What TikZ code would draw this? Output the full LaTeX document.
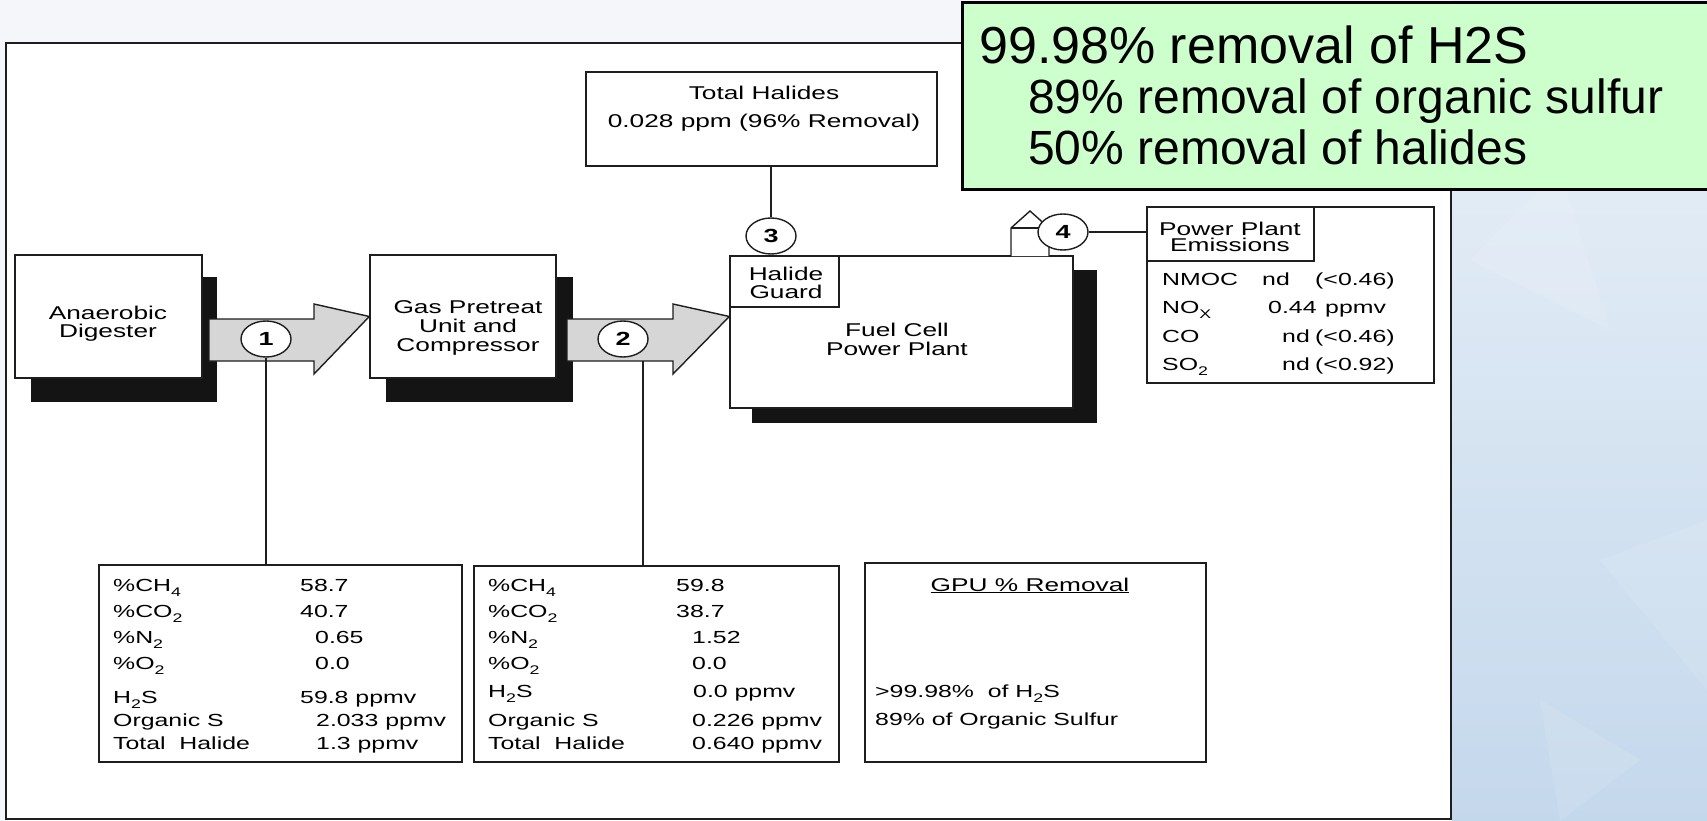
\documentclass[tikz,border=0pt]{standalone}
\usepackage{fontspec}
\usetikzlibrary{shapes.geometric}
\newfontfamily\scan[FakeStretch=1.42]{Liberation Sans}
\newfontfamily\slide{Liberation Sans}
\newcommand\dsub[1]{\raisebox{-0.3em}{\fontsize{12.5}{12.5}\selectfont #1}}
\definecolor{ink}{HTML}{1E1E1E}
\definecolor{shadowc}{HTML}{141414}
\definecolor{arrowgray}{HTML}{D6D6D6}
\definecolor{gbox}{HTML}{CCFFCC}
\definecolor{topbg}{HTML}{F4F6F9}
\definecolor{bluetop}{HTML}{EAF1F8}
\definecolor{bluebot}{HTML}{C4D8EC}
\begin{document}
\begin{tikzpicture}[x=1pt,y=-1pt,
  bx/.style={draw=ink, line width=1.4pt, fill=white, inner sep=0pt},
  shad/.style={fill=shadowc},
  ln/.style={draw=ink, line width=1.4pt},
  flow/.style={draw=ink, line width=1.4pt, fill=arrowgray, line join=miter},
  num/.style={ellipse, draw=ink, line width=1.4pt, fill=white, minimum width=50pt, minimum height=36pt, inner sep=0pt, font=\scan\bfseries\fontsize{19}{19}\selectfont},
  tt/.style={inner sep=0pt, anchor=base west, font=\scan\fontsize{17.5}{18}\selectfont},
  lb/.style={inner sep=0pt, anchor=base, font=\scan\fontsize{18.5}{19}\selectfont},
  gt/.style={inner sep=0pt, anchor=base west, font=\slide\fontsize{48}{48}\selectfont},
]
\useasboundingbox (0,0) rectangle (1707,821);
% background
\fill[topbg] (0,0) rectangle (1707,821);
\shade[top color=bluetop, bottom color=bluebot] (1452,0) rectangle (1707,821);
\fill[white,opacity=0.12] (1470,260) -- (1560,170) -- (1610,330) -- cycle;
\fill[white,opacity=0.10] (1600,560) -- (1707,520) -- (1707,690) -- cycle;
\fill[white,opacity=0.10] (1540,700) -- (1640,760) -- (1560,821) -- cycle;
\fill[white] (6,43) rectangle (1451,821);
\draw[draw=ink, line width=2pt] (6,43) rectangle (1451,819);

% shadows
\fill[shad] (31,277) rectangle (217,402);
\fill[shad] (386,277) rectangle (573,402);
\fill[shad] (752,270) rectangle (1097,423);

% process boxes
\node[bx, minimum width=187pt, minimum height=123pt] (dig) at (108.5,316.5) {};
\node[bx, minimum width=186pt, minimum height=123pt] (gpu) at (463,316.5) {};
\node[bx, minimum width=343pt, minimum height=152pt] (fc) at (901.5,332) {};
\node[bx, minimum width=109pt, minimum height=51pt] (hg) at (784.5,281.5) {};

\node[lb] (digA) at (108,319) {Anaerobic};
\node[lb] (digB) at (108,337) {Digester};
\node[lb] (gpuA) at (468,313) {Gas Pretreat};
\node[lb] (gpuB) at (468,332) {Unit and};
\node[lb] (gpuC) at (468,351) {Compressor};
\node[lb] (hgA) at (786,280) {Halide};
\node[lb] (hgB) at (786,298) {Guard};
\node[lb] (fcA) at (897,336) {Fuel Cell};
\node[lb] (fcB) at (897,355) {Power Plant};

% flow arrows
\draw[flow] (209,319) -- (314,319) -- (314,304) -- (dig.east -| gpu.west) -- (314,374) -- (314,361) -- (209,361) -- cycle;
\draw[flow] (567,319) -- (673,319) -- (673,304) -- (gpu.east -| fc.west) -- (673,374) -- (673,361) -- (567,361) -- cycle;
\coordinate (a2b) at (643,361);

% chimney
\draw[ln, fill=white, line join=miter] (1011,256) -- (1011,228) -- (1030,211) -- (1049,228) -- (1049,256);
\draw[ln] (1011,228) -- (1049,228);

% stream circles
\node[num] (c1) at (266,339) {1};
\node[num] (c2) at (623,339) {2};
\node[num] (c3) at (771,236) {3};
\node[num] (c4) at (1063,232) {4};

% total halides
\node[bx, minimum width=351pt, minimum height=94pt] (th) at (761.5,119) {};
\node[lb] (thA) at (764,100) {Total Halides};
\node[lb] (thB) at (764,128) {0.028 ppm (96\% Removal)};

% emissions
\node[bx, minimum width=287pt, minimum height=176pt] (em) at (1290.5,295) {};
\node[bx, minimum width=167pt, minimum height=54pt] (emt) at (1230.5,234) {};
\node[lb, font=\scan\fontsize{18.5}{16}\selectfont] (emtA) at (1230,235) {Power Plant};
\node[lb, font=\scan\fontsize{18.5}{16}\selectfont] (emtB) at (1230,251) {Emissions};
\foreach \yy/\la/\vxa/\va/\vxb/\vb [count=\i] in {285/NMOC/1262/nd/1315/{(<0.46)}, 313/{NO\dsub{X}}/1268/{0.44}/1325/ppmv, 342/CO/1282/nd/1315/{(<0.46)}, 370/{SO\dsub{2}}/1282/nd/1315/{(<0.92)}}{
  \node[tt] (emL\i) at (1162,\yy) {\la};
  \node[tt] (emV\i) at (\vxa,\yy) {\va};
  \node[tt] (emW\i) at (\vxb,\yy) {\vb};
}

% gas analysis tables
\node[bx, minimum width=363pt, minimum height=197pt] (t1) at (280.5,663.5) {};
\node[bx, minimum width=365pt, minimum height=196pt] (t2) at (656.5,664) {};
\foreach \yy/\la/\va/\vx [count=\i] in {591/{\%CH\dsub{4}}/{58.7}/300, 617/{\%CO\dsub{2}}/{40.7}/300, 643/{\%N\dsub{2}}/{0.65}/315, 669/{\%O\dsub{2}}/{0.0}/315, 703/{H\dsub{2}S}/{59.8 ppmv}/300, 726/{Organic S}/{2.033 ppmv}/316, 749/{Total\ \ Halide}/{1.3 ppmv}/316}{
  \node[tt] (tAl\i) at (113,\yy) {\la};
  \node[tt] (tAv\i) at (\vx,\yy) {\va};
}
\foreach \yy/\la/\va/\vx [count=\i] in {591/{\%CH\dsub{4}}/{59.8}/676, 617/{\%CO\dsub{2}}/{38.7}/676, 643/{\%N\dsub{2}}/{1.52}/692, 669/{\%O\dsub{2}}/{0.0}/692, 697/{H\dsub{2}S}/{0.0 ppmv}/693, 726/{Organic S}/{0.226 ppmv}/692, 749/{Total\ \ Halide}/{0.640 ppmv}/692}{
  \node[tt] (tBl\i) at (488,\yy) {\la};
  \node[tt] (tBv\i) at (\vx,\yy) {\va};
}

% GPU removal box
\node[bx, minimum width=341pt, minimum height=199pt] (rem) at (1035.5,662.5) {};
\node[lb] (remT) at (1030,591) {\underline{GPU \% Removal}};
\node[tt] (remA) at (875,697) {>99.98\%\ \ of H\dsub{2}S};
\node[tt] (remB) at (875,725) {89\% of Organic Sulfur};

% connectors
\draw[ln] (c1.south) -- (c1.south |- t1.north);
\draw[ln] (a2b) -- (a2b |- t2.north);
\draw[ln] (c3.north |- th.south) -- (c3.north);
\draw[ln] (c4.east) -- (em.west |- c4.east);

% highlight box
\node[draw=black, line width=3pt, fill=gbox, minimum width=748pt, minimum height=187pt, inner sep=0pt] (hl) at (1336,96.5) {};
\node[gt, font=\slide\fontsize{52}{52}\selectfont] (hl1) at (979,64) {99.98\% removal of H2S};
\node[gt] (hl2) at (1028,114) {89\% removal of organic sulfur};
\node[gt] (hl3) at (1028,165) {50\% removal of halides};
\end{tikzpicture}
\end{document}
